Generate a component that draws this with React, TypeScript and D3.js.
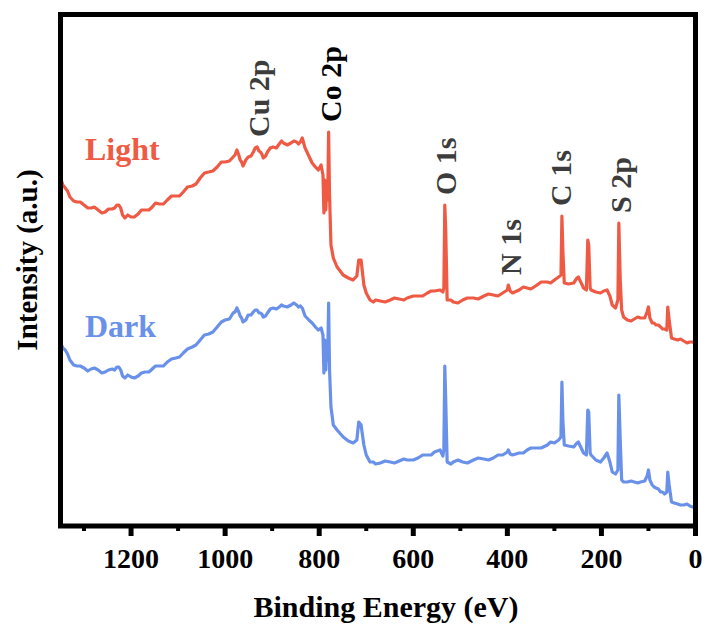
import * as d3 from 'd3'

// binding energy grid (eV), shared by both spectra
const energy = [
  1350, 1340, 1330, 1315, 1300, 1285, 1270, 1255, 1240, 1230, 1222, 1213, 1200, 1185, 1170, 1155,
  1140, 1123, 1105, 1089, 1070, 1053, 1035, 1017, 1000, 983, 975, 968, 962, 951, 940, 932,
  925, 919, 910, 898, 885, 876, 860, 848, 840, 836, 830, 822, 815, 808, 802, 796,
  792, 790, 788, 786, 784, 782, 780, 778, 775, 770, 762, 749, 738, 728, 720, 716,
  711, 705, 700, 692, 685, 670, 649, 630, 613, 590, 570, 555, 543, 537, 535, 533,
  531, 528, 515, 495, 472, 450, 430, 410, 400, 398, 394, 389, 375, 358, 340, 315,
  300, 291, 286, 284, 282, 279, 270, 259, 252, 249, 244, 238, 232, 229, 227, 224,
  222, 212, 202, 195, 188, 182, 177, 170, 165, 163, 160, 157, 153, 145, 130, 117,
  108, 103, 100, 97, 92, 84, 74, 66, 61, 59, 56, 51, 45, 38, 25, 12, 2
]

const light = [
  348, 338, 329, 324, 321, 318, 316, 314, 317, 321, 318, 308, 309, 312, 316, 319,
  322, 326, 330, 334, 340, 348, 354, 359, 364, 369, 376, 366, 360, 369, 374, 379,
  374, 368, 374, 379, 382, 383, 383, 384, 384, 388, 378, 370, 363, 359, 356, 361,
  351, 313, 346, 316, 341, 326, 394, 331, 281, 268, 259, 251, 248, 246, 250, 266,
  266, 241, 233, 226, 224, 225, 226, 227, 228, 230, 233, 235, 236, 234, 238, 321,
  296, 226, 224, 226, 228, 230, 231, 233, 236, 241, 235, 233, 236, 238, 240, 244,
  246, 249, 251, 310, 276, 243, 242, 243, 248, 249, 244, 238, 236, 286, 281, 238,
  236, 234, 233, 235, 236, 230, 221, 218, 226, 303, 246, 216, 209, 206, 207, 208,
  208, 214, 219, 208, 203, 201, 199, 197, 196, 219, 206, 188, 187, 186, 185, 184, 183
]

const dark = [
  183, 176, 166, 160, 158, 157, 156, 154, 157, 159, 156, 148, 149, 150, 154, 157,
  160, 164, 168, 173, 179, 186, 192, 199, 206, 213, 218, 210, 204, 211, 214, 216,
  213, 209, 213, 218, 219, 220, 221, 221, 220, 218, 210, 206, 203, 199, 196, 198,
  191, 153, 186, 156, 181, 166, 223, 156, 119, 101, 96, 89, 85, 83, 86, 104,
  101, 81, 71, 64, 64, 63, 64, 65, 66, 68, 71, 74, 76, 70, 76, 160,
  126, 64, 64, 64, 66, 67, 68, 71, 74, 76, 72, 71, 73, 76, 78, 81,
  83, 86, 89, 144, 106, 81, 80, 79, 83, 84, 79, 73, 71, 116, 114, 73,
  71, 66, 64, 68, 73, 64, 54, 52, 56, 131, 86, 46, 44, 44, 44, 44,
  45, 50, 56, 46, 41, 38, 34, 32, 34, 54, 41, 24, 23, 22, 21, 20, 19
]

// extra readings for the noisy stretches of the background
const energyNoise = [
  1345, 1335, 1322, 1308, 1292, 1278, 1262, 1248, 1235, 1226, 1218, 1207, 1193, 1178, 1162, 1148,
  1131, 1114, 1097, 1080, 1062, 1044, 1026, 1008, 991, 979, 971, 965, 956, 945, 936, 928,
  922, 914, 904, 891, 880, 868, 854, 844,
  680, 660, 640, 620, 600, 580, 562, 520, 505, 485, 462, 440, 420, 366, 350, 328, 308,
  137, 123, 88, 79, 70, 32, 18, 6
]
const lightNoise = [
  341, 335, 325, 324, 318, 319, 313, 317, 318, 321, 311, 311, 309, 316, 316, 323,
  322, 330, 330, 339, 342, 353, 355, 364, 365, 371, 371, 364, 366, 370, 378, 375,
  372, 370, 378, 378, 385, 381, 385, 382,
  226, 224, 228, 226, 230, 230, 235, 226, 223, 228, 227, 232, 230, 239, 237, 244, 243,
  205, 209, 203, 201, 197, 187, 183, 184
]
const darkNoise = [
  178, 172, 161, 160, 155, 158, 153, 156, 156, 159, 150, 151, 148, 153, 154, 160,
  160, 167, 169, 177, 181, 191, 194, 204, 207, 214, 214, 208, 206, 211, 216, 213,
  212, 210, 217, 217, 221, 219, 223, 219,
  62, 65, 63, 67, 66, 71, 71, 62, 66, 63, 68, 66, 71, 73, 78, 78, 84,
  45, 43, 39, 37, 34, 21, 22, 19
]

const peakNames = ['Cu 2p', 'Co 2p', 'O 1s', 'N 1s', 'C 1s', 'S 2p']
const peakEnergy = [928, 777, 532, 394, 288, 160]

const xTicks = [1200, 1000, 800, 600, 400, 200, 0]
const xMinorTicks = [1300, 1100, 900, 700, 500, 300, 100]

const merge = (main: number[], extra: number[]) =>
  energy.map((e, i) => [e, main[i]])
    .concat(energyNoise.map((e, i) => [e, extra[i]]))
    .sort((a, b) => b[0] - a[0])

const series = [
  { name: 'Light', points: merge(light, lightNoise), color: '#EE5A44', labelY: 160 },
  { name: 'Dark', points: merge(dark, darkNoise), color: '#6A91EA', labelY: 337 }
]

const W = 708, H = 630
const left = 60.5, right = 695.5, top = 14.5, bottom = 526
const font = '"Liberation Serif", "Times New Roman", serif'

export default function App() {
  const x = d3.scaleLinear().domain([1350, 0]).range([left, right])
  const y = d3.scaleLinear().domain([0, 511.5]).range([bottom, top])

  const line = d3.line<number[]>()
    .x(d => x(d[0]))
    .y(d => y(d[1]))

  const labelBase = (e: number) => {
    let m = 0
    energy.forEach((en, i) => { if (Math.abs(en - e) <= 6) m = Math.max(m, light[i]) })
    return y(m) - 10
  }

  return (
    <svg width={W} height={H} style={{ position: 'absolute', left: 0, top: 0, background: '#fff' }}
      fontFamily={font} fontWeight="bold">
      <defs>
        <clipPath id="plot">
          <rect x={left} y={top} width={right - left} height={bottom - top} />
        </clipPath>
      </defs>

      <g clipPath="url(#plot)">
        {series.map(s => (
          <path key={s.name} d={line(s.points) || ''} fill="none" stroke={s.color}
            strokeWidth={3.2} strokeLinejoin="round" />
        ))}
      </g>

      <rect x={left} y={top} width={right - left} height={bottom - top}
        fill="none" stroke="#000" strokeWidth={5} />

      {xTicks.map(t => (
        <g key={t}>
          <line x1={x(t)} x2={x(t)} y1={bottom} y2={bottom + 10} stroke="#000" strokeWidth={5} />
          <text x={x(t)} y={568} textAnchor="middle" fontSize={28} fill="#000">{t}</text>
        </g>
      ))}
      {xMinorTicks.map(t => (
        <line key={t} x1={x(t)} x2={x(t)} y1={bottom} y2={bottom + 5} stroke="#000" strokeWidth={4} />
      ))}

      <text x={(left + right) / 2 + 8} y={617} textAnchor="middle" fontSize={30} fill="#000">
        Binding Energy (eV)
      </text>
      <text transform={`translate(27,260) rotate(-90)`} dy="0.35em" textAnchor="middle"
        fontSize={29} fill="#000">Intensity (a.u.)</text>

      {series.map(s => (
        <text key={s.name} x={85} y={s.labelY} fontSize={32} fill={s.color}>{s.name}</text>
      ))}

      {peakNames.map((n, i) => (
        <text key={n} transform={`translate(${x(peakEnergy[i])},${labelBase(peakEnergy[i])}) rotate(-90)`}
          dy="0.35em" textAnchor="start" fontSize={30}
          fill={n === 'Co 2p' ? '#000' : '#3c3c3c'}>{n}</text>
      ))}
    </svg>
  )
}
